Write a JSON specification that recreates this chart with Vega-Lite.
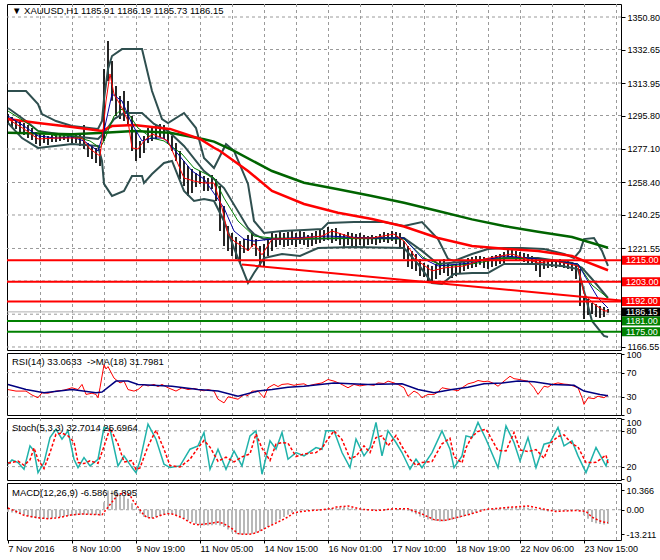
{
"$schema":"https://vega.github.io/schema/vega-lite/v6.json",
"background":"#ffffff",
"padding":{"left":2,"top":3,"right":0,"bottom":0},
"spacing":3,
"bounds":"flush",
"config":{
 "view":{"stroke":"#000000","strokeWidth":1},
 "font":"Liberation Sans",
 "axis":{"labelFont":"Liberation Sans","labelFontSize":9,"labelColor":"#000000","grid":false,"domain":false,"tickColor":"#000000","tickSize":3,"labelPadding":2,"labelOverlap":false}
},
"datasets":{
"gx":[{"g":16},{"g":32},{"g":48},{"g":64},{"g":80},{"g":96},{"g":112},{"g":128},{"g":144},{"g":160},{"g":176},{"g":192},{"g":208},{"g":224},{"g":240},{"g":256},{"g":272},{"g":288},{"g":304}],
"gyMain":[{"g":1166.55},{"g":1184.85},{"g":1203.40},{"g":1221.55},{"g":1240.25},{"g":1258.40},{"g":1277.10},{"g":1295.80},{"g":1313.95},{"g":1332.65},{"g":1350.80}],
"gyRsi":[{"g":30},{"g":70}],
"gySto":[{"g":20},{"g":80}],
"gyMacd":[{"g":0}],
"bars":[{"i":0,"h":1296.6,"l":1291.1,"m":-1.2},{"i":2,"h":1295.0,"l":1289.4,"m":-1.5},{"i":4,"h":1293.8,"l":1288.3,"m":-1.9},{"i":6,"h":1292.7,"l":1286.6,"m":-2.2},{"i":8,"h":1291.6,"l":1284.9,"m":-2.8},{"i":10,"h":1290.5,"l":1283.2,"m":-3.5},{"i":12,"h":1288.8,"l":1282.1,"m":-4.1},{"i":14,"h":1286.6,"l":1279.9,"m":-4.6},{"i":16,"h":1285.5,"l":1278.8,"m":-4.9},{"i":18,"h":1284.9,"l":1280.5,"m":-5.0},{"i":20,"h":1284.4,"l":1279.3,"m":-4.9},{"i":22,"h":1284.9,"l":1281.0,"m":-4.6},{"i":24,"h":1285.5,"l":1281.0,"m":-4.2},{"i":26,"h":1286.0,"l":1281.6,"m":-3.9},{"i":28,"h":1285.5,"l":1282.1,"m":-3.6},{"i":30,"h":1284.9,"l":1281.0,"m":-3.4},{"i":32,"h":1284.4,"l":1280.5,"m":-3.2},{"i":34,"h":1284.9,"l":1280.5,"m":-3.0},{"i":36,"h":1285.5,"l":1278.8,"m":-2.8},{"i":38,"h":1290.5,"l":1277.1,"m":-2.7},{"i":40,"h":1280.5,"l":1272.6,"m":-2.6},{"i":42,"h":1278.8,"l":1271.5,"m":-2.6},{"i":44,"h":1277.7,"l":1269.3,"m":-2.8},{"i":46,"h":1277.1,"l":1267.6,"m":-3.2},{"i":48,"h":1321.8,"l":1281.6,"m":4.0},{"i":50,"h":1337.4,"l":1315.1,"m":10.3},{"i":52,"h":1326.2,"l":1304.0,"m":10.3},{"i":54,"h":1312.3,"l":1295.5,"m":10.2},{"i":56,"h":1306.7,"l":1293.8,"m":9.0},{"i":58,"h":1309.5,"l":1292.7,"m":7.5},{"i":60,"h":1303.9,"l":1289.9,"m":5.9},{"i":62,"h":1295.5,"l":1276.0,"m":3.5},{"i":64,"h":1287.2,"l":1270.4,"m":0.5},{"i":66,"h":1281.6,"l":1272.1,"m":-2.0},{"i":68,"h":1284.4,"l":1274.9,"m":-3.8},{"i":70,"h":1288.8,"l":1280.5,"m":-4.3},{"i":72,"h":1289.9,"l":1281.6,"m":-4.5},{"i":74,"h":1290.5,"l":1282.7,"m":-4.0},{"i":76,"h":1291.1,"l":1283.8,"m":-3.3},{"i":78,"h":1290.5,"l":1282.7,"m":-2.6},{"i":80,"h":1287.2,"l":1280.5,"m":-2.1},{"i":82,"h":1284.4,"l":1276.0,"m":-2.3},{"i":84,"h":1280.5,"l":1270.4,"m":-2.8},{"i":86,"h":1276.0,"l":1260.4,"m":-3.6},{"i":88,"h":1270.4,"l":1256.4,"m":-4.7},{"i":90,"h":1267.6,"l":1250.9,"m":-5.7},{"i":92,"h":1265.9,"l":1252.5,"m":-6.6},{"i":94,"h":1263.7,"l":1255.9,"m":-7.6},{"i":96,"h":1264.8,"l":1257.6,"m":-8.2},{"i":98,"h":1262.0,"l":1253.7,"m":-8.4},{"i":100,"h":1260.9,"l":1253.7,"m":-8.4},{"i":102,"h":1262.6,"l":1254.8,"m":-8.3},{"i":104,"h":1260.4,"l":1248.1,"m":-8.0},{"i":106,"h":1256.4,"l":1231.3,"m":-8.4},{"i":108,"h":1245.3,"l":1222.9,"m":-9.2},{"i":110,"h":1234.1,"l":1220.2,"m":-10.6},{"i":112,"h":1230.2,"l":1217.4,"m":-12.0},{"i":114,"h":1228.0,"l":1215.7,"m":-12.8},{"i":116,"h":1225.7,"l":1213.5,"m":-13.2},{"i":118,"h":1226.8,"l":1219.0,"m":-13.2},{"i":120,"h":1229.1,"l":1220.2,"m":-13.1},{"i":122,"h":1230.2,"l":1222.4,"m":-12.9},{"i":124,"h":1226.8,"l":1217.4,"m":-12.3},{"i":126,"h":1222.9,"l":1211.8,"m":-11.5},{"i":128,"h":1224.1,"l":1211.2,"m":-10.4},{"i":130,"h":1226.8,"l":1217.4,"m":-9.3},{"i":132,"h":1230.2,"l":1220.2,"m":-7.9},{"i":134,"h":1229.6,"l":1222.4,"m":-6.4},{"i":136,"h":1231.3,"l":1223.5,"m":-5.1},{"i":138,"h":1230.2,"l":1222.4,"m":-3.9},{"i":140,"h":1230.8,"l":1222.9,"m":-2.7},{"i":142,"h":1231.3,"l":1223.5,"m":-1.6},{"i":144,"h":1230.2,"l":1222.4,"m":-0.8},{"i":146,"h":1231.3,"l":1224.1,"m":-0.6},{"i":148,"h":1230.8,"l":1223.5,"m":-0.4},{"i":150,"h":1229.1,"l":1222.4,"m":-0.3},{"i":152,"h":1230.2,"l":1222.9,"m":-0.2},{"i":154,"h":1231.3,"l":1224.1,"m":0.0},{"i":156,"h":1232.4,"l":1224.6,"m":0.2},{"i":158,"h":1231.9,"l":1225.7,"m":0.4},{"i":160,"h":1233.6,"l":1226.3,"m":0.7},{"i":162,"h":1232.4,"l":1224.6,"m":0.9},{"i":164,"h":1233.0,"l":1225.7,"m":1.0},{"i":166,"h":1230.2,"l":1223.5,"m":1.3},{"i":168,"h":1229.6,"l":1221.8,"m":1.5},{"i":170,"h":1230.8,"l":1223.5,"m":1.2},{"i":172,"h":1230.2,"l":1222.9,"m":0.8},{"i":174,"h":1229.6,"l":1222.4,"m":0.5},{"i":176,"h":1230.2,"l":1223.5,"m":0.3},{"i":178,"h":1229.1,"l":1222.4,"m":0.1},{"i":180,"h":1228.5,"l":1223.5,"m":0.0},{"i":182,"h":1229.1,"l":1224.1,"m":-0.1},{"i":184,"h":1228.5,"l":1223.5,"m":-0.2},{"i":186,"h":1229.6,"l":1224.6,"m":-0.3},{"i":188,"h":1230.8,"l":1225.2,"m":-0.4},{"i":190,"h":1230.2,"l":1224.6,"m":-0.2},{"i":192,"h":1231.3,"l":1225.7,"m":0.1},{"i":194,"h":1230.8,"l":1224.1,"m":0.3},{"i":196,"h":1230.2,"l":1221.2,"m":0.5},{"i":198,"h":1225.7,"l":1215.7,"m":0.3},{"i":200,"h":1222.9,"l":1211.2,"m":-0.6},{"i":202,"h":1220.2,"l":1210.1,"m":-1.3},{"i":204,"h":1218.5,"l":1209.0,"m":-2.4},{"i":206,"h":1215.7,"l":1206.2,"m":-3.6},{"i":208,"h":1213.5,"l":1205.6,"m":-4.4},{"i":210,"h":1212.4,"l":1203.4,"m":-5.2},{"i":212,"h":1211.8,"l":1202.9,"m":-5.8},{"i":214,"h":1212.9,"l":1204.5,"m":-6.1},{"i":216,"h":1214.6,"l":1206.8,"m":-6.3},{"i":218,"h":1215.7,"l":1207.9,"m":-6.2},{"i":220,"h":1213.5,"l":1206.2,"m":-5.8},{"i":222,"h":1212.4,"l":1205.1,"m":-5.4},{"i":224,"h":1212.9,"l":1206.2,"m":-4.9},{"i":226,"h":1213.5,"l":1207.9,"m":-4.3},{"i":228,"h":1214.6,"l":1209.0,"m":-3.6},{"i":230,"h":1216.2,"l":1210.1,"m":-2.9},{"i":232,"h":1216.8,"l":1210.7,"m":-2.2},{"i":234,"h":1217.4,"l":1211.2,"m":-1.3},{"i":236,"h":1217.4,"l":1212.4,"m":-0.4},{"i":238,"h":1216.8,"l":1210.7,"m":0.1},{"i":240,"h":1216.2,"l":1210.1,"m":0.4},{"i":242,"h":1217.4,"l":1211.2,"m":0.6},{"i":244,"h":1217.9,"l":1211.8,"m":0.8},{"i":246,"h":1218.5,"l":1212.9,"m":0.9},{"i":248,"h":1219.6,"l":1213.5,"m":1.0},{"i":250,"h":1220.7,"l":1215.7,"m":1.1},{"i":252,"h":1221.2,"l":1216.2,"m":1.2},{"i":254,"h":1220.2,"l":1215.1,"m":1.4},{"i":256,"h":1219.6,"l":1214.6,"m":1.5},{"i":258,"h":1219.0,"l":1214.0,"m":1.4},{"i":260,"h":1218.5,"l":1213.5,"m":1.1},{"i":262,"h":1217.4,"l":1212.9,"m":0.7},{"i":264,"h":1216.2,"l":1209.0,"m":0.4},{"i":266,"h":1214.6,"l":1205.6,"m":0.0},{"i":268,"h":1215.7,"l":1210.1,"m":-0.5},{"i":270,"h":1215.1,"l":1210.7,"m":-0.9},{"i":272,"h":1215.7,"l":1211.2,"m":-0.8},{"i":274,"h":1215.1,"l":1210.7,"m":-0.7},{"i":276,"h":1215.7,"l":1211.2,"m":-0.6},{"i":278,"h":1215.1,"l":1210.7,"m":-0.5},{"i":280,"h":1214.6,"l":1210.1,"m":-0.4},{"i":282,"h":1214.0,"l":1209.0,"m":-0.3},{"i":284,"h":1213.5,"l":1204.5,"m":-0.2},{"i":286,"h":1210.1,"l":1189.4,"m":-0.8},{"i":288,"h":1195.0,"l":1182.2,"m":-3.0},{"i":290,"h":1193.3,"l":1184.4,"m":-4.8},{"i":292,"h":1191.1,"l":1185.0,"m":-6.6},{"i":294,"h":1190.6,"l":1183.3,"m":-7.2},{"i":296,"h":1189.4,"l":1182.7,"m":-7.6},{"i":298,"h":1188.9,"l":1183.3,"m":-7.9},{"i":300,"h":1187.8,"l":1185.7,"m":-7.6}],
"bbU":[{"i":0,"v":1309.5},{"i":9,"v":1309.5},{"i":15,"v":1302.2},{"i":17,"v":1296.6},{"i":24,"v":1292.7},{"i":32,"v":1289.9},{"i":45,"v":1288.3},{"i":47,"v":1292.7},{"i":48,"v":1305.0},{"i":50,"v":1321.8},{"i":52,"v":1329.0},{"i":57,"v":1332.9},{"i":67,"v":1332.9},{"i":72,"v":1309.5},{"i":77,"v":1293.8},{"i":80,"v":1291.6},{"i":88,"v":1297.2},{"i":94,"v":1288.8},{"i":98,"v":1272.1},{"i":103,"v":1266.5},{"i":109,"v":1279.9},{"i":113,"v":1276.0},{"i":120,"v":1257.6},{"i":123,"v":1236.9},{"i":128,"v":1230.2},{"i":137,"v":1231.3},{"i":148,"v":1231.9},{"i":157,"v":1232.4},{"i":160,"v":1235.8},{"i":173,"v":1236.3},{"i":188,"v":1236.3},{"i":198,"v":1234.1},{"i":207,"v":1236.3},{"i":215,"v":1226.8},{"i":220,"v":1215.7},{"i":223,"v":1214.6},{"i":232,"v":1218.5},{"i":240,"v":1221.2},{"i":248,"v":1221.8},{"i":257,"v":1221.8},{"i":268,"v":1221.2},{"i":278,"v":1218.5},{"i":283,"v":1216.2},{"i":286,"v":1220.2},{"i":288,"v":1226.8},{"i":293,"v":1227.4},{"i":297,"v":1220.2},{"i":300,"v":1211.8}],
"bbM":[{"i":0,"v":1300.0},{"i":9,"v":1292.7},{"i":15,"v":1287.2},{"i":32,"v":1284.4},{"i":45,"v":1282.7},{"i":48,"v":1286.0},{"i":53,"v":1293.8},{"i":58,"v":1297.2},{"i":67,"v":1297.2},{"i":73,"v":1291.1},{"i":80,"v":1287.2},{"i":88,"v":1278.8},{"i":98,"v":1264.8},{"i":103,"v":1260.4},{"i":108,"v":1255.3},{"i":120,"v":1233.0},{"i":123,"v":1229.6},{"i":128,"v":1226.8},{"i":148,"v":1226.8},{"i":170,"v":1227.4},{"i":198,"v":1227.4},{"i":207,"v":1220.2},{"i":215,"v":1212.9},{"i":232,"v":1214.6},{"i":248,"v":1216.2},{"i":265,"v":1216.2},{"i":282,"v":1213.5},{"i":287,"v":1210.7},{"i":292,"v":1204.5},{"i":300,"v":1193.9}],
"bbL":[{"i":0,"v":1291.6},{"i":7,"v":1283.2},{"i":15,"v":1277.7},{"i":32,"v":1279.9},{"i":45,"v":1278.8},{"i":47,"v":1270.4},{"i":48,"v":1257.6},{"i":52,"v":1250.9},{"i":58,"v":1253.7},{"i":62,"v":1262.0},{"i":67,"v":1262.0},{"i":68,"v":1258.1},{"i":72,"v":1263.1},{"i":78,"v":1269.3},{"i":82,"v":1270.4},{"i":88,"v":1253.7},{"i":93,"v":1248.1},{"i":98,"v":1249.2},{"i":103,"v":1248.1},{"i":108,"v":1236.9},{"i":113,"v":1221.8},{"i":120,"v":1202.3},{"i":123,"v":1207.9},{"i":128,"v":1216.2},{"i":137,"v":1218.5},{"i":146,"v":1217.4},{"i":155,"v":1221.8},{"i":173,"v":1222.4},{"i":198,"v":1221.8},{"i":205,"v":1212.9},{"i":212,"v":1202.3},{"i":217,"v":1201.7},{"i":223,"v":1207.3},{"i":232,"v":1207.9},{"i":240,"v":1207.9},{"i":248,"v":1212.9},{"i":265,"v":1212.9},{"i":277,"v":1211.8},{"i":285,"v":1210.1},{"i":288,"v":1197.8},{"i":292,"v":1181.1},{"i":298,"v":1172.7},{"i":300,"v":1172.1}],
"maR":[{"i":0,"v":1293.8},{"i":15,"v":1291.6},{"i":32,"v":1289.4},{"i":47,"v":1287.2},{"i":52,"v":1289.9},{"i":63,"v":1290.5},{"i":81,"v":1288.3},{"i":96,"v":1282.7},{"i":103,"v":1277.8},{"i":106,"v":1276.0},{"i":120,"v":1264.8},{"i":132,"v":1253.7},{"i":148,"v":1246.4},{"i":165,"v":1241.5},{"i":182,"v":1238.0},{"i":198,"v":1233.8},{"i":215,"v":1227.4},{"i":232,"v":1222.9},{"i":248,"v":1221.4},{"i":265,"v":1220.2},{"i":282,"v":1217.4},{"i":288,"v":1214.6},{"i":300,"v":1209.4}],
"maG":[{"i":0,"v":1286.2},{"i":32,"v":1285.3},{"i":48,"v":1286.2},{"i":63,"v":1287.2},{"i":81,"v":1286.2},{"i":98,"v":1282.5},{"i":103,"v":1281.2},{"i":113,"v":1276.0},{"i":132,"v":1264.8},{"i":148,"v":1258.3},{"i":165,"v":1254.6},{"i":182,"v":1250.9},{"i":198,"v":1247.1},{"i":215,"v":1242.5},{"i":232,"v":1237.8},{"i":248,"v":1234.1},{"i":265,"v":1230.9},{"i":282,"v":1228.0},{"i":300,"v":1222.0}],
"fr":[{"i":0,"v":1293.8},{"i":8,"v":1288.3},{"i":15,"v":1282.7},{"i":24,"v":1283.2},{"i":32,"v":1283.2},{"i":37,"v":1283.2},{"i":41,"v":1277.1},{"i":46,"v":1273.2},{"i":47,"v":1281.6},{"i":49,"v":1303.9},{"i":51,"v":1319.0},{"i":53,"v":1307.8},{"i":57,"v":1300.0},{"i":60,"v":1292.7},{"i":62,"v":1277.7},{"i":65,"v":1277.1},{"i":68,"v":1281.6},{"i":72,"v":1285.5},{"i":77,"v":1283.2},{"i":80,"v":1281.6},{"i":85,"v":1268.7},{"i":88,"v":1260.9},{"i":93,"v":1259.2},{"i":98,"v":1258.1},{"i":103,"v":1258.1},{"i":107,"v":1244.2},{"i":110,"v":1229.6},{"i":113,"v":1225.7},{"i":117,"v":1222.9},{"i":120,"v":1220.2},{"i":123,"v":1224.1},{"i":127,"v":1218.0},{"i":132,"v":1226.8},{"i":148,"v":1227.4},{"i":157,"v":1228.5},{"i":162,"v":1231.3},{"i":173,"v":1227.4},{"i":182,"v":1227.4},{"i":193,"v":1229.6},{"i":198,"v":1225.7},{"i":205,"v":1214.6},{"i":212,"v":1209.0},{"i":218,"v":1210.7},{"i":228,"v":1211.8},{"i":238,"v":1215.7},{"i":252,"v":1218.5},{"i":265,"v":1213.5},{"i":273,"v":1214.6},{"i":285,"v":1211.8},{"i":288,"v":1196.2},{"i":293,"v":1190.6},{"i":298,"v":1186.7},{"i":300,"v":1186.7}],
"fb":[{"i":0,"v":1295.5},{"i":8,"v":1289.9},{"i":15,"v":1284.4},{"i":24,"v":1283.2},{"i":32,"v":1283.8},{"i":38,"v":1281.6},{"i":45,"v":1276.0},{"i":48,"v":1287.2},{"i":52,"v":1307.8},{"i":57,"v":1303.9},{"i":62,"v":1291.1},{"i":67,"v":1281.6},{"i":72,"v":1283.2},{"i":78,"v":1283.2},{"i":85,"v":1274.3},{"i":92,"v":1264.8},{"i":98,"v":1260.4},{"i":108,"v":1244.2},{"i":113,"v":1231.3},{"i":118,"v":1226.8},{"i":123,"v":1225.7},{"i":132,"v":1226.8},{"i":160,"v":1228.5},{"i":180,"v":1227.4},{"i":198,"v":1227.4},{"i":207,"v":1216.2},{"i":215,"v":1211.8},{"i":232,"v":1213.5},{"i":248,"v":1217.4},{"i":265,"v":1215.7},{"i":285,"v":1212.9},{"i":289,"v":1205.1},{"i":295,"v":1193.9},{"i":300,"v":1188.3}],
"fg":[{"i":0,"v":1298.3},{"i":8,"v":1292.7},{"i":15,"v":1287.2},{"i":24,"v":1284.4},{"i":32,"v":1284.4},{"i":41,"v":1281.6},{"i":46,"v":1277.7},{"i":48,"v":1281.6},{"i":53,"v":1295.5},{"i":57,"v":1299.4},{"i":60,"v":1297.2},{"i":65,"v":1288.8},{"i":72,"v":1283.2},{"i":78,"v":1281.6},{"i":87,"v":1274.3},{"i":93,"v":1266.5},{"i":103,"v":1260.9},{"i":108,"v":1249.7},{"i":115,"v":1236.9},{"i":123,"v":1228.5},{"i":132,"v":1227.4},{"i":198,"v":1226.8},{"i":208,"v":1216.2},{"i":218,"v":1211.8},{"i":232,"v":1212.9},{"i":248,"v":1216.2},{"i":265,"v":1215.7},{"i":285,"v":1212.9},{"i":292,"v":1201.1},{"i":300,"v":1193.9}],
"levels":[{"p":1215,"c":"r"},{"p":1203,"c":"r"},{"p":1192,"c":"r"},{"p":1181,"c":"g"},{"p":1175,"c":"g"}],
"trend":[{"i":117,"p":1212.6,"i2":306.5,"p2":1192.5}],
"bid":[{"p":1186.15}],
"boxes":[{"p":1215,"t":"1215.00","c":"r"},{"p":1203,"t":"1203.00","c":"r"},{"p":1192,"t":"1192.00","c":"r"},{"p":1186.15,"t":"1186.15","c":"k"},{"p":1181,"t":"1181.00","c":"g"},{"p":1175,"t":"1175.00","c":"g"}],
"rsi":[{"i":0,"v":42},{"i":4,"v":39.5},{"i":9,"v":39.5},{"i":12,"v":33},{"i":15,"v":28.5},{"i":17,"v":36.7},{"i":20,"v":36},{"i":24,"v":39.5},{"i":28,"v":41},{"i":32,"v":45},{"i":35,"v":42},{"i":37,"v":50.5},{"i":39,"v":34},{"i":42,"v":36},{"i":44,"v":34},{"i":45,"v":28.5},{"i":46,"v":45},{"i":48,"v":83},{"i":49,"v":76},{"i":50,"v":80},{"i":53,"v":61},{"i":56,"v":53},{"i":58,"v":56},{"i":60,"v":42},{"i":63,"v":39.5},{"i":65,"v":42},{"i":68,"v":50.5},{"i":70,"v":48},{"i":73,"v":50.5},{"i":75,"v":47},{"i":77,"v":50.5},{"i":80,"v":45},{"i":84,"v":39.5},{"i":87,"v":45},{"i":90,"v":42},{"i":93,"v":44},{"i":95,"v":42},{"i":98,"v":40},{"i":100,"v":42},{"i":103,"v":39.5},{"i":105,"v":26},{"i":108,"v":20},{"i":110,"v":30},{"i":112,"v":28.5},{"i":115,"v":26},{"i":118,"v":34},{"i":120,"v":32},{"i":122,"v":39.5},{"i":125,"v":39.5},{"i":128,"v":28.5},{"i":130,"v":45},{"i":133,"v":50.5},{"i":135,"v":47},{"i":137,"v":50.5},{"i":140,"v":51.5},{"i":143,"v":49},{"i":145,"v":50.5},{"i":148,"v":51.5},{"i":150,"v":48},{"i":153,"v":50.5},{"i":157,"v":53},{"i":160,"v":58.6},{"i":163,"v":56},{"i":166,"v":52},{"i":170,"v":45},{"i":173,"v":50.5},{"i":176,"v":48},{"i":180,"v":50.5},{"i":183,"v":49},{"i":185,"v":53},{"i":188,"v":52},{"i":190,"v":56},{"i":193,"v":53},{"i":195,"v":50.5},{"i":198,"v":45},{"i":200,"v":31},{"i":203,"v":39.5},{"i":205,"v":36},{"i":207,"v":28.5},{"i":210,"v":34},{"i":213,"v":34},{"i":215,"v":38},{"i":217,"v":45},{"i":220,"v":43},{"i":222,"v":42},{"i":225,"v":40},{"i":227,"v":45},{"i":230,"v":51.5},{"i":233,"v":54},{"i":235,"v":57},{"i":238,"v":55},{"i":240,"v":56},{"i":243,"v":52},{"i":245,"v":47.5},{"i":248,"v":56},{"i":251,"v":64},{"i":253,"v":60},{"i":255,"v":59},{"i":258,"v":57},{"i":260,"v":56},{"i":263,"v":45},{"i":265,"v":34},{"i":268,"v":47.5},{"i":270,"v":46},{"i":272,"v":50.5},{"i":275,"v":53},{"i":278,"v":51},{"i":280,"v":50.5},{"i":283,"v":47.5},{"i":285,"v":45},{"i":287,"v":28.5},{"i":288,"v":17.5},{"i":290,"v":28.5},{"i":293,"v":27},{"i":295,"v":31},{"i":298,"v":28.5},{"i":300,"v":33.1}],
"rma":[{"i":0,"v":50.5},{"i":9,"v":42},{"i":18,"v":36.7},{"i":32,"v":42},{"i":44,"v":36.7},{"i":47,"v":38},{"i":54,"v":56},{"i":60,"v":56},{"i":65,"v":50.5},{"i":82,"v":47.5},{"i":95,"v":42},{"i":105,"v":39.5},{"i":115,"v":31},{"i":125,"v":39.5},{"i":132,"v":42},{"i":140,"v":46},{"i":148,"v":47.5},{"i":163,"v":53},{"i":180,"v":50.5},{"i":197,"v":51.5},{"i":205,"v":42},{"i":213,"v":36.7},{"i":222,"v":42},{"i":230,"v":46},{"i":238,"v":51.5},{"i":247,"v":53},{"i":255,"v":56},{"i":263,"v":55},{"i":272,"v":50.5},{"i":283,"v":49},{"i":288,"v":39.5},{"i":296,"v":34},{"i":300,"v":31.8}],
"osc":[{"i":0,"k":24,"d":26},{"i":2,"k":31.3,"d":26.9},{"i":5,"k":26.8,"d":29.5},{"i":8,"k":15.6,"d":22.3},{"i":11,"k":54.8,"d":31.3},{"i":13,"k":46.4,"d":51.4},{"i":15,"k":10,"d":31.8},{"i":18,"k":26.8,"d":16.7},{"i":21,"k":68.8,"d":43.6},{"i":24,"k":82.8,"d":74.4},{"i":27,"k":66,"d":76.1},{"i":30,"k":80,"d":71.6},{"i":33,"k":32.4,"d":61},{"i":35,"k":18.4,"d":26.8},{"i":38,"k":35.2,"d":25.1},{"i":41,"k":21.2,"d":29.6},{"i":45,"k":32.4,"d":25.7},{"i":48,"k":85.6,"d":53.7},{"i":51,"k":82.8,"d":84.5},{"i":55,"k":21.2,"d":58.2},{"i":58,"k":38,"d":27.9},{"i":62,"k":18.4,"d":30.2},{"i":64,"k":10,"d":15},{"i":66,"k":29.6,"d":17.8},{"i":70,"k":91.2,"d":54.2},{"i":74,"k":66,"d":81.1},{"i":78,"k":24,"d":49.2},{"i":81,"k":18.4,"d":21.8},{"i":86,"k":21.2,"d":19.5},{"i":91,"k":49.2,"d":32.4},{"i":95,"k":54.8,"d":51.4},{"i":98,"k":77.2,"d":63.8},{"i":101,"k":15.6,"d":52.6},{"i":105,"k":49.2,"d":29},{"i":109,"k":15.6,"d":35.8},{"i":113,"k":46.4,"d":27.9},{"i":117,"k":21.2,"d":36.3},{"i":121,"k":71.6,"d":41.4},{"i":124,"k":80,"d":75},{"i":127,"k":7.2,"d":50.9},{"i":131,"k":63.2,"d":30.2},{"i":134,"k":49.2,"d":57.6},{"i":137,"k":77.2,"d":60.4},{"i":140,"k":32.4,"d":59.3},{"i":144,"k":43.6,"d":36.9},{"i":148,"k":38,"d":41.4},{"i":154,"k":52,"d":43.6},{"i":157,"k":49.2,"d":50.9},{"i":159,"k":80,"d":61.5},{"i":163,"k":80,"d":80},{"i":167,"k":43.6,"d":65.4},{"i":171,"k":18.4,"d":33.5},{"i":174,"k":66,"d":37.4},{"i":178,"k":38,"d":54.8},{"i":181,"k":52,"d":43.6},{"i":184,"k":94,"d":68.8},{"i":187,"k":38,"d":71.6},{"i":190,"k":80,"d":54.8},{"i":194,"k":60.4,"d":72.2},{"i":197,"k":43.6,"d":53.7},{"i":201,"k":15.6,"d":32.4},{"i":204,"k":32.4,"d":22.3},{"i":207,"k":18.4,"d":26.8},{"i":212,"k":43.6,"d":28.5},{"i":217,"k":80,"d":58.2},{"i":221,"k":49.2,"d":67.7},{"i":223,"k":18.4,"d":36.9},{"i":227,"k":38,"d":26.2},{"i":229,"k":71.6,"d":51.4},{"i":232,"k":68.8,"d":70.5},{"i":235,"k":94,"d":78.9},{"i":239,"k":66,"d":82.8},{"i":245,"k":18.4,"d":47},{"i":249,"k":88.4,"d":46.4},{"i":253,"k":60.4,"d":77.2},{"i":256,"k":29.6,"d":48.1},{"i":260,"k":68.8,"d":45.3},{"i":264,"k":18.4,"d":48.6},{"i":268,"k":57.6,"d":34.1},{"i":271,"k":60.4,"d":58.8},{"i":275,"k":85.6,"d":70.5},{"i":278,"k":54.8,"d":73.3},{"i":282,"k":63.2,"d":58.2},{"i":285,"k":38,"d":53.1},{"i":289,"k":10,"d":26.8},{"i":294,"k":52,"d":27.2},{"i":299,"k":21.2,"d":39.3},{"i":300,"k":32.7,"d":25.7}],
"sig":[{"i":0,"v":0.9},{"i":4,"v":-0.9},{"i":8,"v":-3.0},{"i":15,"v":-4.3},{"i":20,"v":-4.8},{"i":25,"v":-4.3},{"i":32,"v":-2.7},{"i":37,"v":-2.3},{"i":42,"v":-2.5},{"i":47,"v":-2.7},{"i":52,"v":4.1},{"i":55,"v":8.0},{"i":58,"v":9.1},{"i":61,"v":7.7},{"i":63,"v":4.1},{"i":65,"v":1.4},{"i":68,"v":-3.0},{"i":70,"v":-4.3},{"i":73,"v":-4.4},{"i":77,"v":-2.7},{"i":80,"v":-2.1},{"i":83,"v":-2.5},{"i":88,"v":-4.8},{"i":92,"v":-7.5},{"i":95,"v":-8.0},{"i":100,"v":-7.5},{"i":105,"v":-6.6},{"i":108,"v":-7.5},{"i":112,"v":-10.1},{"i":115,"v":-12.8},{"i":118,"v":-13.2},{"i":122,"v":-13.0},{"i":125,"v":-11.9},{"i":130,"v":-9.2},{"i":135,"v":-6.6},{"i":140,"v":-3.9},{"i":143,"v":-1.6},{"i":147,"v":-0.9},{"i":152,"v":-0.4},{"i":157,"v":0.0},{"i":162,"v":0.7},{"i":164,"v":1.4},{"i":170,"v":2.0},{"i":177,"v":0.2},{"i":185,"v":-0.4},{"i":193,"v":0.5},{"i":200,"v":0.5},{"i":207,"v":-2.3},{"i":213,"v":-5.3},{"i":218,"v":-5.8},{"i":225,"v":-4.0},{"i":232,"v":-2.1},{"i":239,"v":0.2},{"i":252,"v":1.4},{"i":260,"v":2.0},{"i":267,"v":0.5},{"i":274,"v":-0.9},{"i":284,"v":-0.4},{"i":289,"v":-0.9},{"i":292,"v":-4.0},{"i":297,"v":-6.5},{"i":300,"v":-6.9}],
"titles":[{"panel":"main","t":"▼ XAUUSD,H1 1185.91 1186.19 1185.73 1186.15"},{"panel":"rsi","t":"RSI(14) 33.0633\u00a0 ->MA(18) 31.7981"},{"panel":"stoch","t":"Stoch(5,3,3) 32.7014 25.6964"},{"panel":"macd","t":"MACD(12,26,9) -6.586 -6.895"}]
},
"vconcat":[
{
 "width":614,"height":346,
 "resolve":{"axis":{"x":"independent","y":"independent"}},
 "layer":[
  {"data":{"name":"gx"},"mark":{"type":"rule","color":"#9a9a9a","strokeWidth":1,"strokeDash":[3,3],"xOffset":0.5},"encoding":{"x":{"field":"g","type":"quantitative","scale":{"domain":[-0.5,306.5],"nice":false,"zero":false},"axis":null}}},
  {"data":{"name":"gyMain"},"mark":{"type":"rule","color":"#9a9a9a","strokeWidth":1,"strokeDash":[3,3]},"encoding":{"y":{"field":"g","type":"quantitative","scale":{"domain":[1164.87,1358.06],"nice":false,"zero":false},"axis":{"title":null,"grid":false,"orient":"right","values":[1166.55,1184.85,1203.40,1221.55,1240.25,1258.40,1277.10,1295.80,1313.95,1332.65,1350.80],"format":".2f","labelExpr":"(datum.value>1180 && datum.value<1210) ? '' : datum.label","tickSize":4,"labelOverlap":false}}}},
  {"data":{"name":"bid"},"mark":{"type":"rule","color":"#b0b0b0","strokeWidth":1},"encoding":{"y":{"field":"p","type":"quantitative","axis":null}}},
  {"data":{"name":"bars"},"mark":{"type":"rule","color":"#000000","strokeWidth":1.7},"encoding":{"x":{"field":"i","type":"quantitative","axis":null},"y":{"field":"h","type":"quantitative","axis":null},"y2":{"field":"l"}}},
  {"data":{"name":"bbU"},"mark":{"type":"line","color":"#2F4F4F","strokeWidth":2},"encoding":{"x":{"field":"i","type":"quantitative","axis":null},"y":{"field":"v","type":"quantitative","axis":null}}},
  {"data":{"name":"bbM"},"mark":{"type":"line","color":"#2F4F4F","strokeWidth":2},"encoding":{"x":{"field":"i","type":"quantitative","axis":null},"y":{"field":"v","type":"quantitative","axis":null}}},
  {"data":{"name":"bbL"},"mark":{"type":"line","color":"#2F4F4F","strokeWidth":2},"encoding":{"x":{"field":"i","type":"quantitative","axis":null},"y":{"field":"v","type":"quantitative","axis":null}}},
  {"data":{"name":"maG"},"mark":{"type":"line","color":"#006400","strokeWidth":2.5},"encoding":{"x":{"field":"i","type":"quantitative","axis":null},"y":{"field":"v","type":"quantitative","axis":null}}},
  {"data":{"name":"maR"},"mark":{"type":"line","color":"#FF0000","strokeWidth":2.5},"encoding":{"x":{"field":"i","type":"quantitative","axis":null},"y":{"field":"v","type":"quantitative","axis":null}}},
  {"data":{"name":"fg"},"mark":{"type":"line","color":"#008000","strokeWidth":1},"encoding":{"x":{"field":"i","type":"quantitative","axis":null},"y":{"field":"v","type":"quantitative","axis":null}}},
  {"data":{"name":"fb"},"mark":{"type":"line","color":"#0000A0","strokeWidth":1},"encoding":{"x":{"field":"i","type":"quantitative","axis":null},"y":{"field":"v","type":"quantitative","axis":null}}},
  {"data":{"name":"fr"},"mark":{"type":"line","color":"#FF0000","strokeWidth":1},"encoding":{"x":{"field":"i","type":"quantitative","axis":null},"y":{"field":"v","type":"quantitative","axis":null}}},
  {"data":{"name":"levels"},"mark":{"type":"rule","strokeWidth":2},"encoding":{"y":{"field":"p","type":"quantitative","axis":null},"color":{"field":"c","type":"nominal","scale":{"domain":["r","g","k"],"range":["#FF0000","#008000","#000000"]},"legend":null}}},
  {"data":{"name":"trend"},"mark":{"type":"rule","color":"#FF0000","strokeWidth":2},"encoding":{"x":{"field":"i","type":"quantitative","axis":null},"x2":{"field":"i2"},"y":{"field":"p","type":"quantitative","axis":null},"y2":{"field":"p2"}}},
  {"data":{"name":"boxes"},"mark":{"type":"rule","strokeWidth":9,"strokeCap":"butt"},"encoding":{"x":{"datum":307,"type":"quantitative","axis":null},"x2":{"datum":327.8},"y":{"field":"p","type":"quantitative","axis":null},"color":{"field":"c","type":"nominal","scale":{"domain":["r","g","k"],"range":["#FF0000","#008000","#000000"]},"legend":null}}},
  {"data":{"name":"boxes"},"mark":{"type":"text","color":"#ffffff","fontSize":9,"align":"left","baseline":"middle","dx":4,"font":"Liberation Sans"},"encoding":{"x":{"datum":307,"type":"quantitative","axis":null},"y":{"field":"p","type":"quantitative","axis":null},"text":{"field":"t"}}},
  {"data":{"name":"titles"},"transform":[{"filter":"datum.panel=='main'"}],"mark":{"type":"text","color":"#000000","fontSize":9.5,"align":"left","baseline":"alphabetic","font":"Liberation Sans"},"encoding":{"x":{"datum":2,"type":"quantitative","axis":null},"y":{"datum":1352.3,"type":"quantitative","axis":null},"text":{"field":"t"}}}
 ]
},
{
 "width":614,"height":62,
 "resolve":{"axis":{"x":"independent","y":"independent"}},
 "layer":[
  {"data":{"name":"gx"},"mark":{"type":"rule","color":"#9a9a9a","strokeWidth":1,"strokeDash":[3,3],"xOffset":0.5},"encoding":{"x":{"field":"g","type":"quantitative","scale":{"domain":[-0.5,306.5],"nice":false,"zero":false},"axis":null}}},
  {"data":{"name":"gyRsi"},"mark":{"type":"rule","color":"#9a9a9a","strokeWidth":1,"strokeDash":[3,3]},"encoding":{"y":{"field":"g","type":"quantitative","scale":{"domain":[0,102.4],"nice":false,"zero":false},"axis":{"title":null,"grid":false,"orient":"right","values":[0,30,70,100],"labelFlush":true,"labelOverlap":false}}}},
  {"data":{"name":"rsi"},"mark":{"type":"line","color":"#FF0000","strokeWidth":1},"encoding":{"x":{"field":"i","type":"quantitative","axis":null},"y":{"field":"v","type":"quantitative","axis":null}}},
  {"data":{"name":"rma"},"mark":{"type":"line","color":"#000080","strokeWidth":1.5},"encoding":{"x":{"field":"i","type":"quantitative","axis":null},"y":{"field":"v","type":"quantitative","axis":null}}},
  {"data":{"name":"titles"},"transform":[{"filter":"datum.panel=='rsi'"}],"mark":{"type":"text","color":"#000000","fontSize":9.5,"align":"left","baseline":"alphabetic","font":"Liberation Sans"},"encoding":{"x":{"datum":2,"type":"quantitative","axis":null},"y":{"datum":83.4,"type":"quantitative","axis":null},"text":{"field":"t"}}}
 ]
},
{
 "width":614,"height":62,
 "resolve":{"axis":{"x":"independent","y":"independent"}},
 "layer":[
  {"data":{"name":"gx"},"mark":{"type":"rule","color":"#9a9a9a","strokeWidth":1,"strokeDash":[3,3],"xOffset":0.5},"encoding":{"x":{"field":"g","type":"quantitative","scale":{"domain":[-0.5,306.5],"nice":false,"zero":false},"axis":null}}},
  {"data":{"name":"gySto"},"mark":{"type":"rule","color":"#9a9a9a","strokeWidth":1,"strokeDash":[3,3]},"encoding":{"y":{"field":"g","type":"quantitative","scale":{"domain":[-2.4,101.5],"nice":false,"zero":false},"axis":{"title":null,"grid":false,"orient":"right","values":[0,20,80,100],"labelFlush":true,"labelOverlap":false}}}},
  {"data":{"name":"osc"},"mark":{"type":"line","color":"#20B2AA","strokeWidth":1.5},"encoding":{"x":{"field":"i","type":"quantitative","axis":null},"y":{"field":"k","type":"quantitative","axis":null}}},
  {"data":{"name":"osc"},"mark":{"type":"line","color":"#FF0000","strokeWidth":1.5,"strokeDash":[3,2]},"encoding":{"x":{"field":"i","type":"quantitative","axis":null},"y":{"field":"d","type":"quantitative","axis":null}}},
  {"data":{"name":"titles"},"transform":[{"filter":"datum.panel=='stoch'"}],"mark":{"type":"text","color":"#000000","fontSize":9.5,"align":"left","baseline":"alphabetic","font":"Liberation Sans"},"encoding":{"x":{"datum":2,"type":"quantitative","axis":null},"y":{"datum":80.5,"type":"quantitative","axis":null},"text":{"field":"t"}}}
 ]
},
{
 "width":614,"height":57,
 "resolve":{"axis":{"x":"independent","y":"independent"}},
 "layer":[
  {"data":{"name":"gx"},"mark":{"type":"rule","color":"#9a9a9a","strokeWidth":1,"strokeDash":[3,3],"xOffset":0.5},"encoding":{"x":{"field":"g","type":"quantitative","scale":{"domain":[-0.5,306.5],"nice":false,"zero":false},"axis":{"title":null,"grid":false,"values":[0,32,64,96,128,160,192,224,256,288],"labelAlign":"left","labelFlush":false,"labelOverlap":false,"labelPadding":1,"tickSize":3,"labelExpr":"({'0':'7 Nov 2016','32':'8 Nov 10:00','64':'9 Nov 19:00','96':'11 Nov 05:00','128':'14 Nov 15:00','160':'16 Nov 01:00','192':'17 Nov 10:00','224':'18 Nov 19:00','256':'22 Nov 06:00','288':'23 Nov 15:00'})[''+datum.value] || ''"}}}},
  {"data":{"name":"gyMacd"},"mark":{"type":"rule","color":"#9a9a9a","strokeWidth":1,"strokeDash":[3,3]},"encoding":{"y":{"field":"g","type":"quantitative","scale":{"domain":[-16.2,14.3],"nice":false,"zero":false},"axis":{"title":null,"grid":false,"orient":"right","values":[-13.211,0,10.366],"labelOverlap":false,"labelExpr":"datum.value == 0 ? '0.00' : (datum.value > 0 ? '10.366' : '-13.211')"}}}},
  {"data":{"name":"bars"},"mark":{"type":"rule","color":"#b8b8b8","strokeWidth":2},"encoding":{"x":{"field":"i","type":"quantitative","axis":null},"y":{"field":"m","type":"quantitative","axis":null},"y2":{"datum":0}}},
  {"data":{"name":"sig"},"mark":{"type":"line","color":"#FF0000","strokeWidth":1.5,"strokeDash":[2,2]},"encoding":{"x":{"field":"i","type":"quantitative","axis":null},"y":{"field":"v","type":"quantitative","axis":null}}},
  {"data":{"name":"titles"},"transform":[{"filter":"datum.panel=='macd'"}],"mark":{"type":"text","color":"#000000","fontSize":9.5,"align":"left","baseline":"alphabetic","font":"Liberation Sans"},"encoding":{"x":{"datum":2,"type":"quantitative","axis":null},"y":{"datum":7.34,"type":"quantitative","axis":null},"text":{"field":"t"}}}
 ]
}
]
}
